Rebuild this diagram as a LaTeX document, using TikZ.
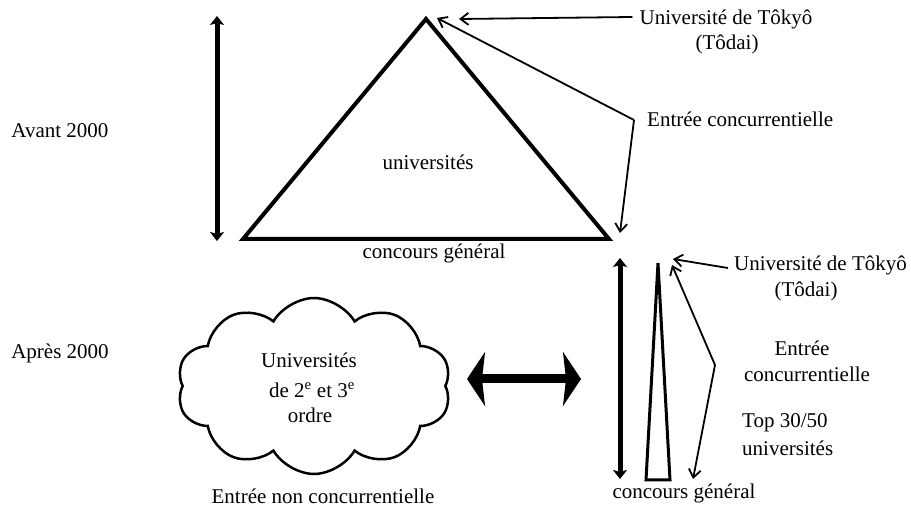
\documentclass[tikz,border=0pt]{standalone}
\usepackage{fontspec}
\setmainfont{Liberation Serif}
\usetikzlibrary{arrows.meta,shapes.symbols}
\begin{document}
\begin{tikzpicture}[x=1pt,y=-1pt,
  lbl/.style={inner sep=1pt,font=\fontsize{21}{25}\selectfont},
  thin/.style={line width=1.8pt,-{Straight Barb[length=8pt,width=12pt]}},
  vbar/.style={line width=5pt,{Stealth[length=9pt,width=14pt,inset=2pt]}-{Stealth[length=9pt,width=14pt,inset=2pt]}},
  pyr/.style={line width=4pt,line join=miter}]
\useasboundingbox (0,0) rectangle (911,510);
% labels left
\node[lbl] (avant) at (60,131) {Avant 2000};
\node[lbl] (apres) at (60,353) {Après 2000};
% top part
\coordinate (v1t) at (217,16);
\coordinate (v1b) at (217,241);
\draw[vbar] (v1t) -- (v1b);
\coordinate (apex) at (426,19);
\coordinate (bl) at (243,239);
\coordinate (br) at (609,239);
\draw[pyr] (apex) -- (br) -- (bl) -- cycle;
\node[lbl] (univ) at (428,162) {universités};
\node[lbl] (cg1) at (434,253) {concours général};
\node[lbl] (t1) at (726,19) {Université de Tôkyô};
\node[lbl] (t1b) at (727,44) {(Tôdai)};
\coordinate (a1) at (459,19);
\draw[thin] ([xshift=-6pt,yshift=2pt]t1.west) -- (a1);
\node[lbl,anchor=west] (e1) at (646,119) {Entrée concurrentielle};
\coordinate (k1) at (634,120);
\coordinate (a2) at (437,18);
\coordinate (a3) at (620,233);
\draw[thin] (k1) -- (a2);
\draw[thin] (k1) -- (a3);
% bottom part
\coordinate (v2t) at (620,258);
\coordinate (v2b) at (620,479);
\draw[vbar] (v2t) -- (v2b);
\coordinate (p2a) at (658,263);
\coordinate (p2r) at (670,480);
\coordinate (p2l) at (646,480);
\draw[line width=3pt,line join=miter] (p2a) -- (p2r) -- (p2l) -- cycle;
\node[lbl,anchor=west] (t2) at (733,265) {Université de Tôkyô};
\node[lbl] (t2b) at (806,291) {(Tôdai)};
\coordinate (a4) at (673,259);
\draw[thin] ([xshift=-5pt,yshift=-3pt]t2.west) -- (a4);
\node[lbl] (e2a) at (802,348) {Entrée};
\node[lbl] (e2b) at (807,374) {concurrentielle};
\coordinate (k2) at (715,365);
\coordinate (a5) at (672,265);
\coordinate (a6) at (693,479);
\draw[thin] (k2) -- (a5);
\draw[thin] (k2) -- (a6);
\node[lbl,anchor=west] (top) at (741,423) {Top 30/50};
\node[lbl,anchor=west] (topu) at (741,448) {universités};
\node[lbl] (cg2) at (684,493) {concours général};
% cloud
\node[draw,cloud,cloud puffs=10,cloud puff arc=120,aspect=1.6,line width=2.5pt,
      minimum width=274pt,minimum height=176pt,inner sep=0pt] (cloud) at (314,386) {};
\node[lbl] (c1) at (309,360) {Universités};
\node[lbl] (c2) at (312,390) {de 2\textsuperscript{e} et 3\textsuperscript{e}};
\node[lbl] (c3) at (310,415) {ordre};
\node[lbl] (enc) at (323,496) {Entrée non concurrentielle};
% horizontal double arrow
\coordinate (h1) at (467,379);
\coordinate (h2) at (581,379);
\draw[line width=9pt,{Stealth[length=18pt,width=54pt,inset=3pt]}-{Stealth[length=18pt,width=54pt,inset=3pt]}] (h1) -- (h2);
\end{tikzpicture}
\end{document}
